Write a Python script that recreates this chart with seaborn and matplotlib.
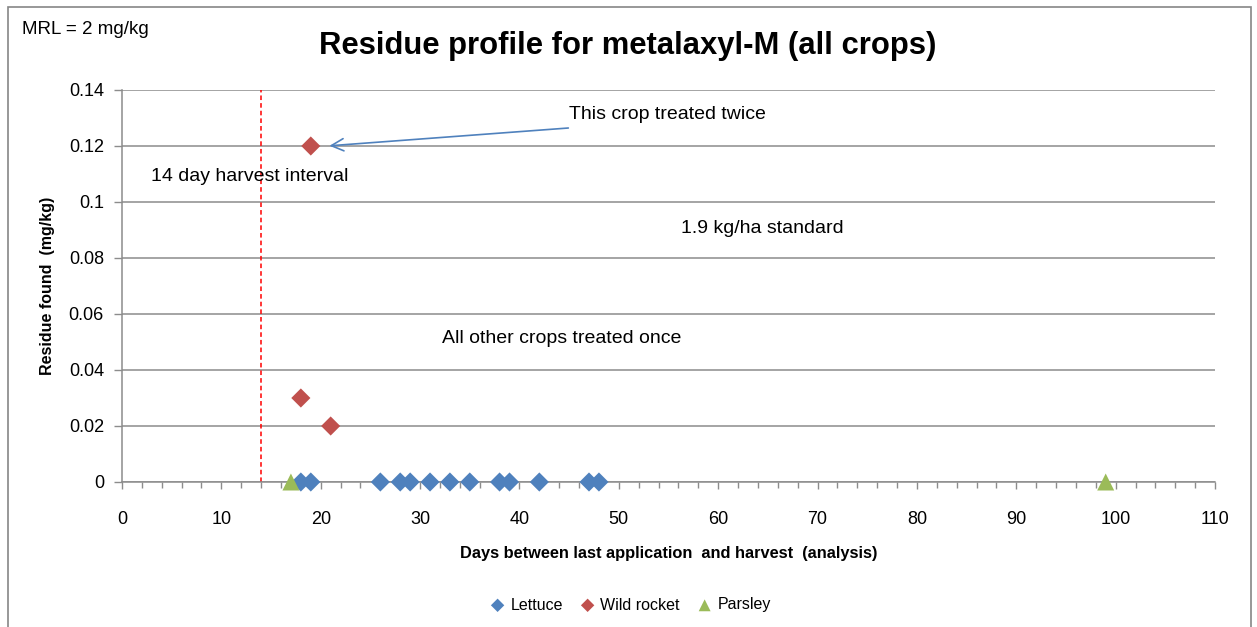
import pandas as pd
import matplotlib.pyplot as plt
import seaborn as sns
from matplotlib.patches import Rectangle
from matplotlib.ticker import MultipleLocator

sns.set_theme(style="white")
plt.rcParams['font.family'] = ['Liberation Sans', 'DejaVu Sans']
plt.rcParams['text.color'] = 'black'
plt.rcParams['axes.labelcolor'] = 'black'

# data
lettuce_days = [18, 19, 26, 28, 29, 31, 33, 35, 38, 39, 42, 47, 48]
lettuce_res = [0] * len(lettuce_days)
rocket_days = [18, 21, 19]
rocket_res = [0.03, 0.02, 0.12]
parsley_days = [17, 99]
parsley_res = [0, 0]

crops = ['Lettuce', 'Wild rocket', 'Parsley']
colors = {'Lettuce': '#4F81BD', 'Wild rocket': '#C0504D', 'Parsley': '#9BBB59'}
markers = {'Lettuce': 'D', 'Wild rocket': 'D', 'Parsley': '^'}
marker_sizes = {'Lettuce': 95, 'Wild rocket': 95, 'Parsley': 150}
y_ticks = [0, 0.02, 0.04, 0.06, 0.08, 0.1, 0.12, 0.14]
y_labels = ['0', '0.02', '0.04', '0.06', '0.08', '0.1', '0.12', '0.14']
harvest_interval = 14


def plot_residue():
    df = pd.concat([
        pd.DataFrame({'days': lettuce_days, 'residue': lettuce_res, 'crop': 'Lettuce'}),
        pd.DataFrame({'days': rocket_days, 'residue': rocket_res, 'crop': 'Wild rocket'}),
        pd.DataFrame({'days': parsley_days, 'residue': parsley_res, 'crop': 'Parsley'}),
    ], ignore_index=True)

    fig = plt.figure(figsize=(12.57, 6.27), dpi=100)
    ax = fig.add_axes([122 / 1257, 1 - 482 / 627, (1215 - 122) / 1257, (482 - 90) / 627])

    # outer chart border
    fig.patches.append(Rectangle((8 / 1257, -0.05), (1251 - 8) / 1257, 1 - 7 / 627 + 0.05,
                                 transform=fig.transFigure, fill=False,
                                 edgecolor='#868686', linewidth=1.2))

    ax.axvline(harvest_interval, color='#FF0000', linestyle=(0, (3, 2)), linewidth=1.1, zorder=1)

    for crop in crops:
        sub = df[df['crop'] == crop]
        sns.scatterplot(data=sub, x='days', y='residue', color=colors[crop],
                        marker=markers[crop], s=marker_sizes[crop], edgecolor='none',
                        label=crop, ax=ax, zorder=3, clip_on=False)

    ax.set_xlim(0, 110)
    ax.set_ylim(0, 0.14)
    ax.xaxis.set_major_locator(MultipleLocator(10))
    ax.xaxis.set_minor_locator(MultipleLocator(2))
    ax.set_yticks(y_ticks, y_labels)
    ax.yaxis.grid(True, color='#8C8C8C', linewidth=1.1)
    ax.set_axisbelow(True)
    for side in ['top', 'right']:
        ax.spines[side].set_visible(False)
    for side in ['left', 'bottom']:
        ax.spines[side].set_color('#8C8C8C')
        ax.spines[side].set_linewidth(1.1)
    ax.tick_params(axis='y', which='major', direction='out', length=6, width=1, pad=7,
                   color='#8C8C8C', labelsize=13, labelcolor='black', left=True)
    ax.tick_params(axis='x', which='major', direction='out', length=5, width=1, pad=16,
                   color='#8C8C8C', labelsize=13, labelcolor='black', bottom=True)
    ax.tick_params(axis='x', which='minor', direction='out', length=4, width=1,
                   color='#8C8C8C', bottom=True)

    ax.set_xlabel('Days between last application  and harvest  (analysis)',
                  fontsize=11.8, fontweight='bold', labelpad=13)
    ax.set_ylabel('Residue found  (mg/kg)', fontsize=11.5, fontweight='bold', labelpad=10)

    fig.text(628 / 1257, 1 - 46 / 627, 'Residue profile for metalaxyl-M (all crops)',
             ha='center', va='center', fontsize=22.3, fontweight='bold')
    fig.text(22 / 1257, 1 - 29 / 627, 'MRL = 2 mg/kg', ha='left', va='center', fontsize=13.5)

    ax.text(12.9, 0.109, '14 day harvest interval', ha='center', va='center', fontsize=14)
    ax.text(64.4, 0.0904, '1.9 kg/ha standard', ha='center', va='center', fontsize=14)
    ax.text(44.3, 0.0514, 'All other crops treated once', ha='center', va='center', fontsize=14)
    ax.text(54.9, 0.1314, 'This crop treated twice', ha='center', va='center', fontsize=14)
    ax.annotate('', xy=(20.6, 0.12), xytext=(45.2, 0.1265),
                arrowprops=dict(arrowstyle='->', color='#4F81BD', lw=1.2, mutation_scale=22))

    handles, labels = ax.get_legend_handles_labels()
    ax.get_legend().remove()
    fig.legend(handles, labels, loc='center', bbox_to_anchor=(631 / 1257, 1 - 605 / 627),
               ncol=3, frameon=False, fontsize=11.5, handlelength=0.8, handletextpad=0.4,
               columnspacing=1.15, markerscale=0.7)

    plt.savefig('out.png', dpi=100)


if __name__ == "__main__":
    plot_residue()
